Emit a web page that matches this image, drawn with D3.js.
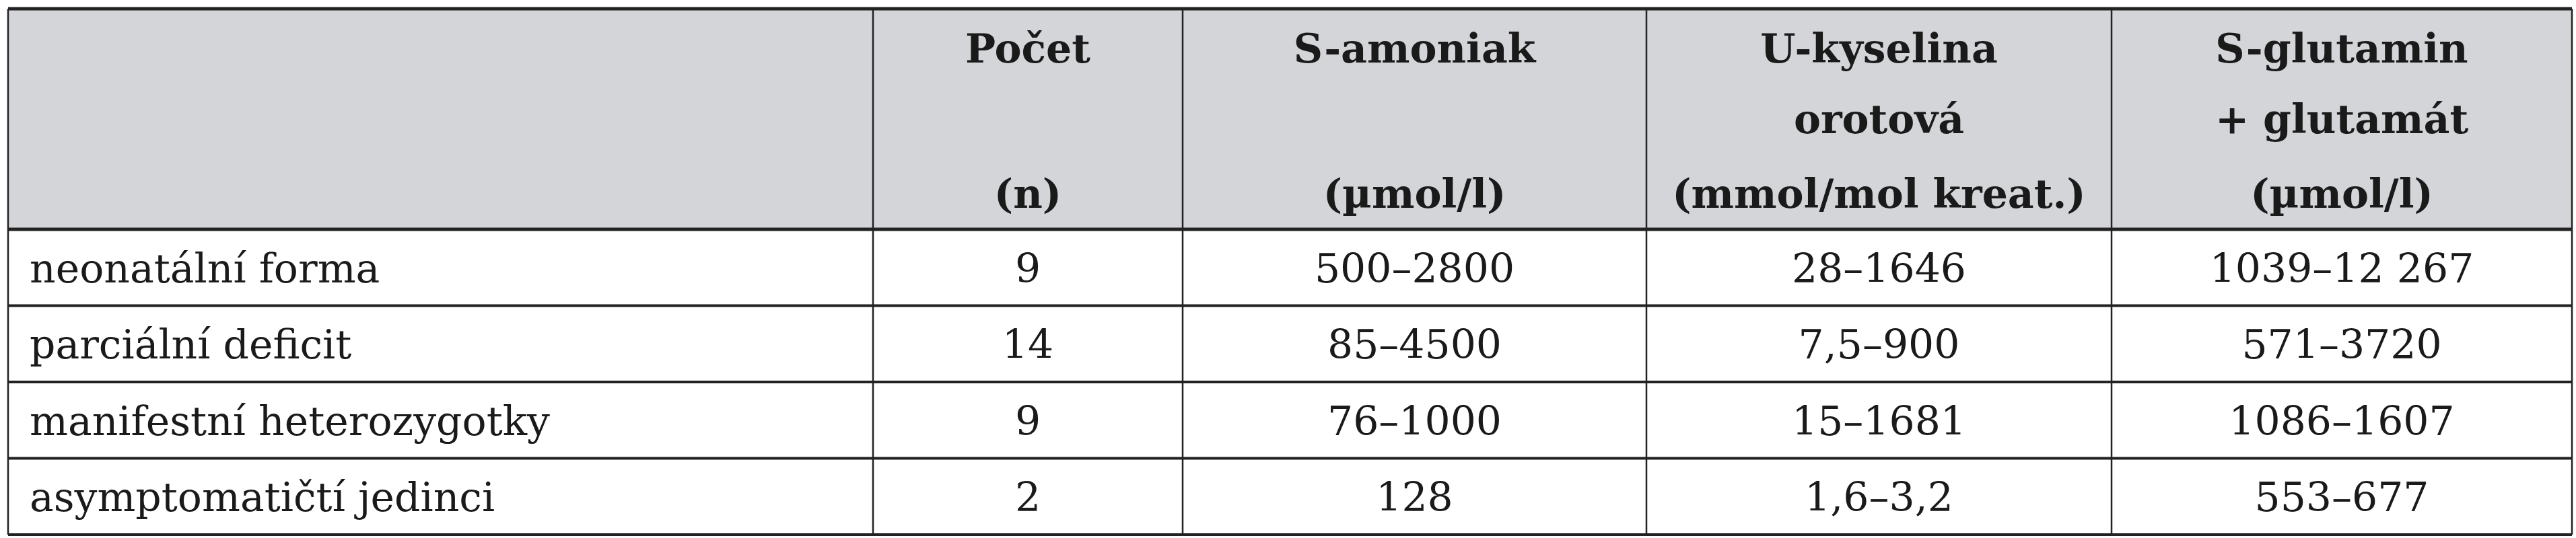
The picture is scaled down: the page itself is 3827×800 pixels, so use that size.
<!DOCTYPE html>
<html><head><meta charset="utf-8">
<script src="https://cdn.jsdelivr.net/npm/d3@7"></script>
<style>body{margin:0;background:#fff}</style>
</head><body>
<script>
const W = 3827, H = 800
const headers = [
  ['Počet', '', '(n)'],
  ['S-amoniak', '', '(µmol/l)'],
  ['U-kyselina', 'orotová', '(mmol/mol kreat.)'],
  ['S-glutamin', '+ glutamát', '(µmol/l)']
]
const groups = ['neonatální forma', 'parciální deficit', 'manifestní heterozygotky', 'asymptomatičtí jedinci']
const counts = ['9', '14', '9', '2']
const amoniak = ['500–2800', '85–4500', '76–1000', '128']
const orotova = ['28–1646', '7,5–900', '15–1681', '1,6–3,2']
const glutamin = ['1039–12 267', '571–3720', '1086–1607', '553–677']

const colEdges = [12, 1297, 1757, 2446, 3137, 3821]
const tableTop = 13, headBottom = 341, tableBottom = 795
const font = 'DejaVu Serif, serif'

const svg = d3.select('body').append('svg').attr('width', W).attr('height', H)
  .style('font-family', font)

const y = d3.scaleBand().domain(d3.range(groups.length)).range([headBottom, tableBottom])

svg.append('rect').attr('x', colEdges[0]).attr('y', tableTop)
  .attr('width', colEdges[5] - colEdges[0]).attr('height', headBottom - tableTop)
  .attr('fill', '#d3d5d9')

// header text
const headBase = [93, 198, 309]
headers.forEach((h, c) => {
  const cx = (colEdges[c + 1] + colEdges[c + 2]) / 2
  h.forEach((t, r) => {
    if (!t) return
    svg.append('text').attr('x', cx).attr('y', headBase[r]).text(t)
      .attr('text-anchor', 'middle').style('font-weight', 'bold').style('font-size', 60)
      .attr('fill', '#1a1a1a')
  })
})

// body
const cols = [counts, amoniak, orotova, glutamin]
groups.forEach((g, i) => {
  const base = y(i) + y.bandwidth() / 2 + 22
  svg.append('text').attr('x', 44).attr('y', base).text(g).style('font-size', 60).attr('fill', '#1a1a1a')
  cols.forEach((col, c) => {
    svg.append('text').attr('x', (colEdges[c + 1] + colEdges[c + 2]) / 2).attr('y', base)
      .text(col[i]).attr('text-anchor', 'middle').style('font-size', 60).attr('fill', '#1a1a1a')
  })
})

// lines
const line = (x1, y1, x2, y2, w) => svg.append('line')
  .attr('x1', x1).attr('y1', y1).attr('x2', x2).attr('y2', y2)
  .attr('stroke', '#222').attr('stroke-width', w)
line(colEdges[0], tableTop, colEdges[5], tableTop, 5)
line(colEdges[0], headBottom, colEdges[5], headBottom, 5)
d3.range(1, groups.length).forEach(i => line(colEdges[0], y(i), colEdges[5], y(i), 4))
line(colEdges[0], tableBottom, colEdges[5], tableBottom, 4)
colEdges.forEach(x => line(x, tableTop, x, tableBottom, 2.5))
</script>
</body></html>
